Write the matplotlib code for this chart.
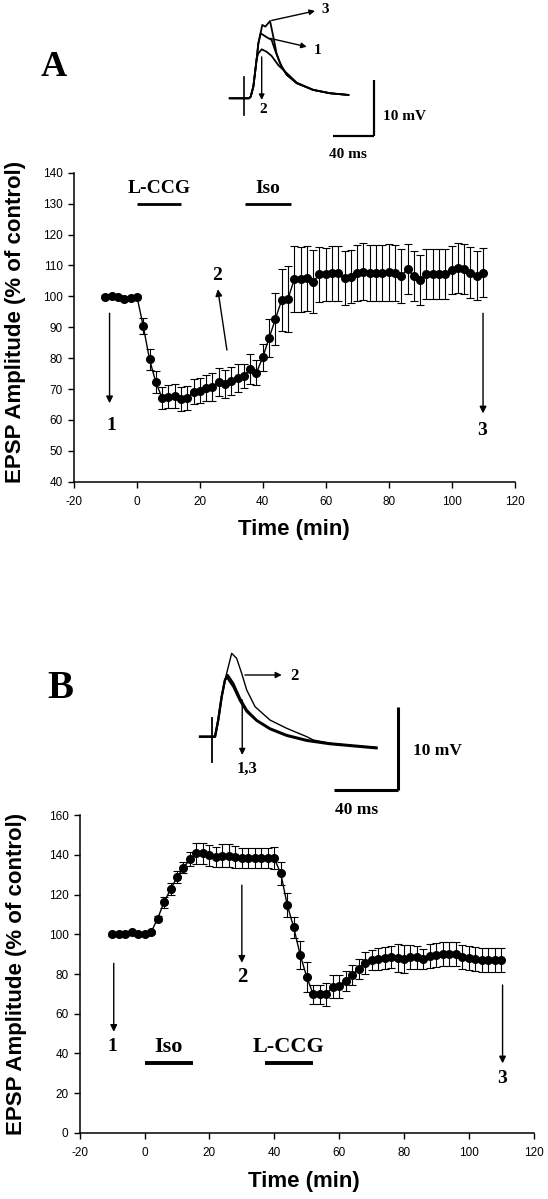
import matplotlib
matplotlib.use("Agg")
from matplotlib import pyplot as plt

W, H = 548, 1199
SANS = "Liberation Sans"
SERIF = "Liberation Serif"
plt.rcParams["font.family"] = [SANS, "DejaVu Sans"]
plt.rcParams["axes.unicode_minus"] = False

# ---------------- panel A : L-CCG, then Iso ----------------
a_time = [-10, -8, -6, -4, -2, 0, 2, 4, 6, 8, 10, 12, 14, 16, 18, 20, 22, 24, 26, 28,
          30, 32, 34, 36, 38, 40, 42, 44, 46, 48, 50, 52, 54, 56, 58, 60, 62, 64, 66, 68,
          70, 72, 74, 76, 78, 80, 82, 84, 86, 88, 90, 92, 94, 96, 98, 100, 102, 104, 106, 108, 110]
a_amp = [99.9, 100.1, 99.7, 99.0, 99.5, 99.9, 90.4, 79.6, 72.2, 67.1, 67.5, 67.8, 66.8, 67.0, 69.1,
         69.4, 70.3, 70.7, 72.2, 71.5, 72.6, 73.5, 74.2, 76.5, 75.3, 80.3, 86.5, 92.6, 98.8, 99.1,
         105.5, 105.5, 105.9, 104.7, 107.1, 107.1, 107.4, 107.4, 105.9, 106.4, 107.6, 108.0, 107.6,
         107.6, 107.6, 107.8, 107.6, 106.6, 108.8, 106.6, 105.3, 107.1, 107.1, 107.1, 107.1, 108.5,
         109.1, 108.8, 107.6, 106.7, 107.7]
a_err = [0.6, 0.6, 0.6, 0.6, 0.6, 0.6, 2.7, 3.5, 3.5, 3.7, 3.7, 3.8, 3.9, 3.9, 4.0, 4.0, 4.3, 4.5,
         4.5, 4.5, 4.5, 4.5, 4.0, 4.9, 4.0, 4.4, 6.3, 8.5, 10.0, 10.7, 10.7, 10.5, 10.5, 10.2, 9.0,
         8.6, 8.8, 8.8, 8.6, 8.6, 9.0, 9.2, 9.0, 9.0, 9.0, 9.2, 9.0, 8.8, 8.2, 8.0, 8.2, 8.1, 8.1,
         8.1, 8.1, 7.9, 8.1, 8.1, 8.3, 8.0, 7.9]
a_drugs = ["L-CCG", "Iso"]
a_drug_on = [0, 34.5]
a_drug_off = [14, 49]

# EPSP traces of panel A (ms, mV)
a_art_t = [0, 0]
a_art_v = [3.75, -3.0]
a_tr1_t = [-14, 0, 5, 6.6, 9.2, 10.8, 12.5, 14.1, 16.4, 22.3, 27.2, 30.5, 35.4, 42, 51.8, 68, 84.6, 102.6]
a_tr1_v = [0, 0, 0, 0.3, 2.1, 4.5, 7.1, 9.8, 11.6, 10.9, 10.4, 8.6, 6.25, 4.2, 2.7, 1.5, 0.9, 0.6]
a_tr2_t = [-14, 0, 5, 6.6, 9.2, 10.8, 12.5, 14.0, 17.4, 22.3, 27.2, 33.8, 42, 51.8, 68, 84.6, 102.6]
a_tr2_v = [0, 0, 0, 0.3, 2.1, 4.5, 7.1, 8.0, 8.75, 8.3, 7.55, 5.9, 4.5, 2.8, 1.5, 0.9, 0.6]
a_tr3_t = [-14, 0, 5, 6.6, 9.2, 10.8, 12.5, 14.1, 18, 21, 25.6, 28.8, 32, 37, 42, 51.8, 68, 84.6, 102.6]
a_tr3_v = [0, 0, 0, 0.3, 2.1, 4.5, 7.1, 9.8, 13.1, 12.8, 13.8, 11.0, 8.0, 5.6, 4.2, 2.7, 1.5, 0.9, 0.6]

# ---------------- panel B : Iso, then L-CCG ----------------
b_time = a_time
b_amp = [100, 100, 100, 101, 100, 100, 101, 107.9, 116.1, 122.7, 128.7, 133.6, 137.8, 140.8, 140.8,
         139.9, 138.8, 139.6, 139.6, 138.8, 138.3, 138.3, 138.3, 138.3, 138.3, 138.3, 130.7, 114.8,
         103.5, 89.6, 78.6, 69.8, 69.8, 69.8, 73.6, 73.8, 76.6, 79.5, 82.7, 85.7, 87.1, 87.6, 87.9,
         88.4, 87.9, 87.6, 88.4, 88.4, 87.6, 89.1, 89.4, 90.3, 90.3, 89.9, 88.4, 87.9, 87.4, 87.1,
         87.1, 87.1, 87.1]
b_err = [0.8, 0.8, 0.8, 0.8, 0.8, 0.8, 0.8, 1.2, 2.6, 3.0, 3.0, 2.8, 3.5, 5.4, 5.4, 5.3, 5.0, 5.8,
         5.8, 5.5, 5.0, 5.0, 5.0, 5.0, 5.0, 5.5, 5.9, 6.0, 5.2, 7.1, 7.7, 4.8, 4.8, 5.7, 5.9, 5.9,
         5.0, 5.0, 5.0, 5.5, 5.2, 5.5, 5.5, 5.5, 7.0, 7.0, 6.0, 5.7, 5.0, 6.0, 6.0, 6.0, 6.0, 6.0,
         6.0, 6.0, 6.0, 6.0, 6.0, 6.0, 6.0]
b_drugs = ["Iso", "L-CCG"]
b_drug_on = [0, 37]
b_drug_off = [15, 52]

b_art_t = [0, 0]
b_art_v = [2.2, -3.0]
b_tr1_t = [-7.3, 0, 2.1, 4.1, 6.25, 8.3, 10, 13.5, 17.7, 21.9, 28.1, 36.4, 46.9, 59.4, 73.9, 103]
b_tr1_v = [0, 0, 0, 2.0, 4.8, 6.8, 7.4, 6.4, 4.6, 3.2, 2.0, 1.0, 0.2, -0.4, -0.8, -1.3]
b_tr3_t = [-7.3, 0, 2.1, 4.1, 6.25, 8.3, 9.6, 13.5, 17.7, 21.9, 28.1, 36.4, 46.9, 59.4, 73.9, 103]
b_tr3_v = [0, 0, 0, 2.0, 4.8, 6.8, 7.1, 6.0, 4.3, 3.0, 1.9, 0.9, 0.1, -0.5, -0.9, -1.4]
b_tr2_t = [-7.3, 0, 2.1, 4.1, 6.25, 8.3, 10.4, 12.5, 15.6, 18.75, 21.9, 27.1, 36.4, 46.9, 59.4,
           63.5, 73.9, 88.5, 103]
b_tr2_v = [0, 0, 0, 2.0, 4.8, 6.8, 8.4, 10.0, 9.4, 7.6, 5.6, 3.6, 2.0, 1.0, 0.0, -0.4, -0.8, -1.1, -1.3]


def px_axes(fig, x0, y0, x1, y1):
  # axes from a pixel box, origin at the top-left corner of the figure
  return fig.add_axes([x0 / W, 1 - y1 / H, (x1 - x0) / W, (y1 - y0) / H])


def fig_text(fig, x, y, s, **kw):
  fig.text(x / W, 1 - y / H, s, ha="center", va="center", **kw)


def serif(ax, x, y, s, size, **kw):
  ax.text(x, y, s, ha="center", va="center", fontfamily=SERIF, fontweight="bold", fontsize=size, **kw)


def arrow(ax, tail, head, lw=1.0, scale=10):
  ax.annotate("", xy=head, xytext=tail,
              arrowprops=dict(arrowstyle="-|>", color="k", lw=lw, mutation_scale=scale,
                              shrinkA=0, shrinkB=0))


def timecourse(ax, t, amp, err, ylim, yticks):
  ax.errorbar(t, amp, yerr=err, fmt="o-", color="k", ms=5.5, lw=1, elinewidth=0.8,
              capsize=3, capthick=0.8)
  ax.set_xlim(-20, 120)
  ax.set_ylim(*ylim)
  ax.set_xticks(range(-20, 121, 20))
  ax.set_yticks(yticks)
  for s in ("top", "right"):
    ax.spines[s].set_visible(False)
  for s in ("left", "bottom"):
    ax.spines[s].set_linewidth(1.1)
  ax.tick_params(direction="out", length=4, width=1, labelsize=8.5)
  ax.tick_params(axis="x", pad=6)
  ax.tick_params(axis="y", pad=4)


def drugs(ax, names, on, off, y, ty, size, lw):
  for name, a, b in zip(names, on, off):
    ax.plot([a, b], [y, y], color="k", lw=lw, solid_capstyle="butt")
    serif(ax, (a + b) / 2, ty, name, size)


fig = plt.figure(figsize=(W / 100, H / 100), dpi=100)

# ---- A: time course ----
axA = px_axes(fig, 74, 172.7, 514.5, 481.7)
timecourse(axA, a_time, a_amp, a_err, (40, 140), range(40, 141, 10))
drugs(axA, a_drugs, a_drug_on, a_drug_off, 130, 134.9, 14, 2)
arrow(axA, (-8.7, 94.5), (-8.7, 65.4))
serif(axA, -8.2, 58.3, "1", 14)
arrow(axA, (28.6, 82.6), (25.7, 102.3))
serif(axA, 25.4, 106.8, "2", 14)
arrow(axA, (110, 94.5), (110, 62.1))
serif(axA, 109.8, 56.5, "3", 14)

# ---- A: traces ----
insA = px_axes(fig, 220, 0, 440, 170)
insA.set_xlim(-23.6, 192.7)
insA.set_ylim(-12.8, 17.55)
insA.axis("off")
insA.plot(a_art_t, a_art_v, color="k", lw=1.2)
for tt, vv in ((a_tr1_t, a_tr1_v), (a_tr2_t, a_tr2_v), (a_tr3_t, a_tr3_v)):
  insA.plot(tt, vv, color="k", lw=1.3)
insA.plot([127.8, 127.8], [3.27, -6.73], color="k", lw=1.6, solid_capstyle="butt")
insA.plot([87.8, 127.8], [-6.73, -6.73], color="k", lw=1.6, solid_capstyle="butt")
insA.text(137, -3.3, "10 mV", ha="left", va="center", fontfamily=SERIF, fontweight="bold", fontsize=11)
serif(insA, 102.6, -10.0, "40 ms", 11)
arrow(insA, (17.4, 7.4), (17.4, -0.3), scale=8)
serif(insA, 19, -2.0, "2", 11)
arrow(insA, (25.6, 10.7), (61.7, 9.2), scale=8)
serif(insA, 72, 8.5, "1", 11)
arrow(insA, (27.2, 13.9), (69.8, 15.6), scale=8)
serif(insA, 80, 15.8, "3", 11)

# ---- B: time course ----
axB = px_axes(fig, 79.7, 815.3, 533.7, 1132.8)
timecourse(axB, b_time, b_amp, b_err, (0, 160), range(0, 161, 20))
drugs(axB, b_drugs, b_drug_on, b_drug_off, 35.2, 43.0, 16, 2.8)
arrow(axB, (-9.5, 85.4), (-9.5, 50.9))
serif(axB, -10.0, 43.3, "1", 14)
arrow(axB, (30, 124.8), (30, 85.7))
serif(axB, 30, 78.4, "2", 15)
arrow(axB, (110.4, 74.5), (110.4, 35))
serif(axB, 110.1, 27.3, "3", 14)

# ---- B: traces ----
insB = px_axes(fig, 180, 640, 460, 820)
insB.set_xlim(-19.8, 155.2)
insB.set_ylim(-10.0, 11.6)
insB.axis("off")
insB.plot(b_art_t, b_art_v, color="k", lw=1.3)
insB.plot(b_tr1_t, b_tr1_v, color="k", lw=1.6)
insB.plot(b_tr3_t, b_tr3_v, color="k", lw=1.6)
insB.plot(b_tr2_t, b_tr2_v, color="k", lw=1.0)
insB.plot([116.6, 116.6], [3.6, -6.4], color="k", lw=2.2, solid_capstyle="butt")
insB.plot([76.4, 116.6], [-6.4, -6.4], color="k", lw=2.2, solid_capstyle="butt")
insB.text(126, -1.7, "10 mV", ha="left", va="center", fontfamily=SERIF, fontweight="bold", fontsize=12.5)
serif(insB, 90.5, -8.8, "40 ms", 12.5)
arrow(insB, (20.8, 7.4), (43.8, 7.4), scale=9)
serif(insB, 52, 7.3, "2", 12)
arrow(insB, (19.1, 4.4), (19.1, -2.2), scale=9)
serif(insB, 21.9, -3.9, "1,3", 12)

# ---- axis titles and panel letters ----
ylab = "EPSP Amplitude (% of control)"
fig_text(fig, 16, 321.5, ylab, rotation=90, fontsize=16, fontweight="bold")
fig_text(fig, 16.5, 974, ylab, rotation=90, fontsize=16, fontweight="bold")
fig_text(fig, 293.6, 530, "Time (min)", fontsize=16, fontweight="bold")
fig_text(fig, 304, 1181.7, "Time (min)", fontsize=16, fontweight="bold")
fig_text(fig, 53.3, 67, "A", fontfamily=SERIF, fontweight="bold", fontsize=26)
fig_text(fig, 60.6, 688, "B", fontfamily=SERIF, fontweight="bold", fontsize=28)

fig.savefig("out.png", dpi=100)
